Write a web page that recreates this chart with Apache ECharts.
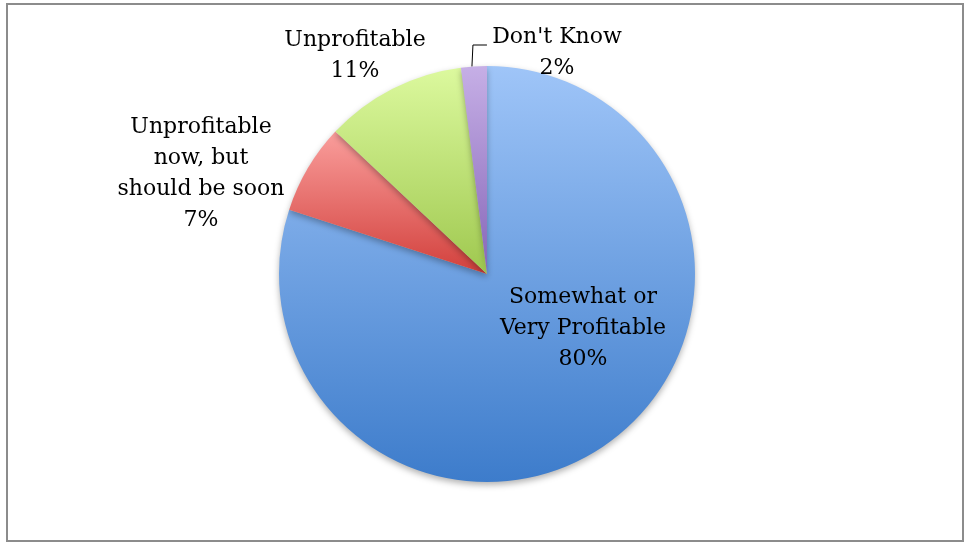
<!DOCTYPE html>
<html>
<head>
<meta charset="utf-8">
<script src="https://cdn.jsdelivr.net/npm/echarts@6/dist/echarts.min.js"></script>
<style>
  html, body { margin: 0; padding: 0; background: #fff; }
  #frame { position: absolute; left: 6px; top: 3px; width: 958px; height: 539px; border: 2px solid #8c8c8c; box-sizing: border-box; }
  #chart { position: absolute; left: 0; top: 0; width: 967px; height: 546px; }
</style>
</head>
<body>
<div id="frame"></div>
<div id="chart"></div>
<script>
// Survey answers on profitability, share of respondents (%)
const categories = ['Somewhat or\nVery Profitable', 'Unprofitable\nnow, but\nshould be soon', 'Unprofitable', "Don't Know"];
const shares = [80, 7, 11, 2];

// Slice gradients: light at the top, deeper at the bottom
const topColors = ['#9fc5f8', '#fa9e9c', '#dcf99e', '#c6afe6'];
const bottomColors = ['#3d7ccb', '#d2403c', '#9fc84f', '#8666b8'];

// Label anchor points (centre of each text block)
const labelSpots = [[583, 328], [201, 174], [355, 56], [557, 53]];

const CX = 487, CY = 274, R = 208;

const chart = echarts.init(document.getElementById('chart'));

const data = categories.map((name, i) => ({
  name: name,
  value: shares[i],
  itemStyle: {
    color: new echarts.graphic.LinearGradient(0, 0, 0, 1, [
      { offset: 0, color: topColors[i] },
      { offset: 1, color: bottomColors[i] }
    ])
  },
  label: { position: i === 0 ? 'inside' : 'outside' }
}));

// Leader for the small "Don't Know" slice: up from the middle of its arc, then right
const total = shares.reduce((a, b) => a + b, 0);
const before = shares.slice(0, 3).reduce((a, b) => a + b, 0);
const midDeg = 90 - (before + shares[3] / 2) / total * 360;
const midRad = midDeg * Math.PI / 180;
const edgeX = CX + R * Math.cos(midRad);
const edgeY = CY - R * Math.sin(midRad);

chart.setOption({
  animation: false,
  graphic: [{
    type: 'polyline',
    z: 10,
    shape: { points: [[edgeX - 2, edgeY], [edgeX - 1, 45], [edgeX + 13, 45]] },
    style: { stroke: '#000', lineWidth: 1, fill: null }
  }],
  series: [{
    type: 'pie',
    center: [CX, CY],
    radius: [0, R],
    startAngle: 90,
    clockwise: true,
    data: data,
    itemStyle: {
      borderWidth: 0,
      shadowBlur: 6,
      shadowOffsetY: 3,
      shadowColor: 'rgba(0,0,0,0.3)'
    },
    label: {
      show: true,
      formatter: p => p.name + '\n' + p.value + '%',
      fontFamily: 'DejaVu Serif',
      fontSize: 22,
      lineHeight: 31,
      color: '#000',
      align: 'center'
    },
    labelLine: { show: false },
    labelLayout: function (params) {
      const s = labelSpots[params.dataIndex];
      return { x: s[0], y: s[1], align: 'center', verticalAlign: 'middle' };
    }
  }]
});
</script>
</body>
</html>
